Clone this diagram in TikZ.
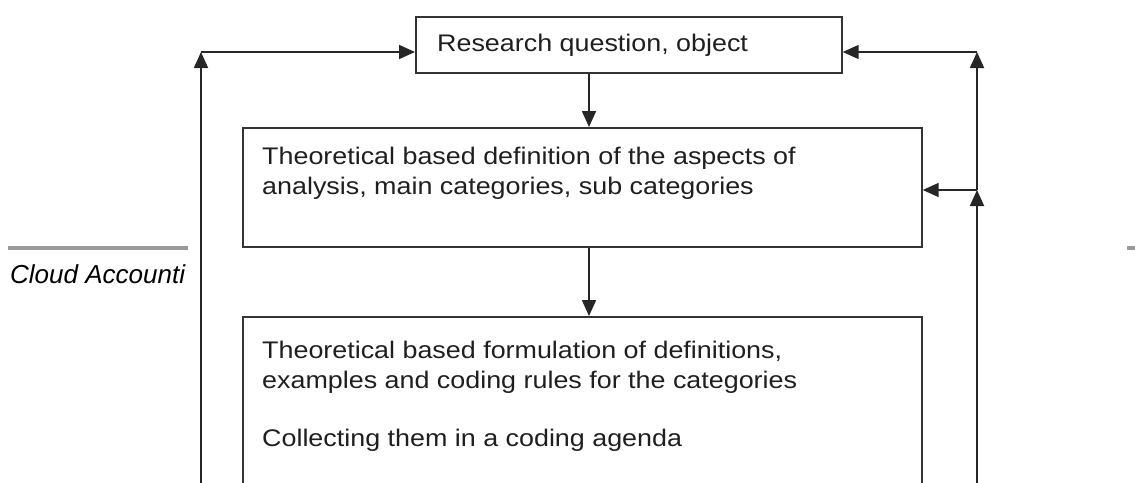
\documentclass[tikz,border=0pt]{standalone}
\usepackage{fontspec}
\setmainfont{Liberation Sans}
\newfontfamily\boxfont[FakeStretch=1.12]{Liberation Sans}
\usetikzlibrary{arrows.meta}
\begin{document}
\begin{tikzpicture}[x=1pt,y=-1pt,
  box/.style={draw=black!80, line width=1.7pt, inner sep=0pt, anchor=north west},
  conn/.style={draw=black!85, line width=1.8pt, -{Triangle[length=16pt,width=14pt]}},
  txt/.style={anchor=base west, inner sep=0pt, font=\boxfont\fontsize{24}{30}\selectfont, text=black!88},
  rulegray/.style={draw=black!40, line width=4pt}]
\useasboundingbox (0,0) rectangle (1135,482);
\clip (0,0) rectangle (1135,482);
% boxes
\node[box, minimum width=426pt, minimum height=56pt] (b1) at (415,16) {};
\node[box, minimum width=679pt, minimum height=119pt] (b2) at (242,127) {};
\node[box, minimum width=679pt, minimum height=200pt] (b3) at (242,316) {};
% texts
\node[txt] (t1) at (437,51) {Research question, object};
\node[txt] (t2a) at (262,164) {Theoretical based definition of the aspects of};
\node[txt] (t2b) at (262,194) {analysis, main categories, sub categories};
\node[txt] (t3a) at (262,358) {Theoretical based formulation of definitions,};
\node[txt] (t3b) at (262,388) {examples and coding rules for the categories};
\node[txt] (t3c) at (262,446) {Collecting them in a coding agenda};
% page-rule fragments behind
\draw[rulegray] (8,248) -- (188,248);
\draw[rulegray] (1127,248) -- (1135,248);
\node[anchor=base west, inner sep=0pt, font=\itshape\fontsize{26}{30}\selectfont] (cloud) at (10,283) {Cloud Accounti};
% connectors
\coordinate (mx) at (589,0);
\coordinate (lb) at (201,500);
\coordinate (lt) at (201,52);
\coordinate (rb) at (977,500);
\coordinate (rm) at (977,190);
\coordinate (rt) at (977,52);
\draw[conn] (b1.south -| mx) -- (b2.north -| mx);
\draw[conn] (b2.south -| mx) -- (b3.north -| mx);
\draw[conn] (lb) -- (lt);
\draw[conn] (lt) -- (lt -| b1.west);
\draw[conn] (rb) -- (rm);
\draw[conn] (rm) -- (rt);
\draw[conn] (rt) -- (rt -| b1.east);
\draw[conn] (rm) -- (rm -| b2.east);
\end{tikzpicture}
\end{document}
